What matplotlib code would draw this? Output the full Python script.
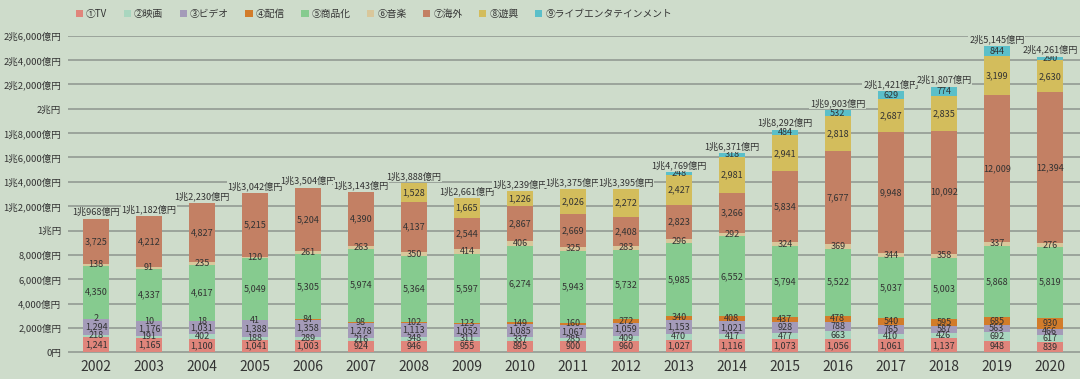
import numpy as np
import matplotlib
matplotlib.use('Agg')
import matplotlib.pyplot as plt

plt.rcParams['font.family'] = ['Noto Sans CJK JP', 'DejaVu Sans']

# 年度
years = ['2002', '2003', '2004', '2005', '2006', '2007', '2008', '2009', '2010', '2011',
         '2012', '2013', '2014', '2015', '2016', '2017', '2018', '2019', '2020']

# 各分野の市場規模 (億円)
tv = [1241, 1165, 1100, 1041, 1003, 924, 946, 955, 895, 900, 960, 1027, 1116, 1073, 1056, 1061, 1137, 948, 839]
eiga = [218, 191, 402, 188, 289, 216, 348, 311, 337, 285, 409, 470, 417, 477, 663, 410, 426, 692, 617]
video = [1294, 1176, 1031, 1388, 1358, 1278, 1113, 1052, 1085, 1067, 1059, 1153, 1021, 928, 788, 765, 587, 563, 466]
haishin = [2, 10, 18, 41, 84, 98, 102, 123, 149, 160, 272, 340, 408, 437, 478, 540, 595, 685, 930]
shohinka = [4350, 4337, 4617, 5049, 5305, 5974, 5364, 5597, 6274, 5943, 5732, 5985, 6552, 5794, 5522, 5037, 5003, 5868, 5819]
ongaku = [138, 91, 235, 120, 261, 263, 350, 414, 406, 325, 283, 296, 292, 324, 369, 344, 358, 337, 276]
kaigai = [3725, 4212, 4827, 5215, 5204, 4390, 4137, 2544, 2867, 2669, 2408, 2823, 3266, 5834, 7677, 9948, 10092, 12009, 12394]
yukyo = [0, 0, 0, 0, 0, 0, 1528, 1665, 1226, 2026, 2272, 2427, 2981, 2941, 2818, 2687, 2835, 3199, 2630]
live = [0, 0, 0, 0, 0, 0, 0, 0, 0, 0, 0, 248, 318, 484, 532, 629, 774, 844, 290]

series_names = ['①TV', '②映画', '③ビデオ', '④配信', '⑤商品化', '⑥音楽', '⑦海外', '⑧遊興',
                '⑨ライブエンタテインメント']
series = [tv, eiga, video, haishin, shohinka, ongaku, kaigai, yukyo, live]
colors = ['#e0857b', '#a9d6bf', '#a49bb9', '#d27c2a', '#86cb8f', '#d9c79b', '#c38064', '#d3bd5c', '#5bbfc9']

bg = '#cedccb'
text_color = '#333333'


def yen_label(v):
    if v == 0:
        return '0円'
    cho = v // 10000
    oku = v % 10000
    if cho == 0:
        return f'{oku:,}億円'
    if oku == 0:
        return f'{cho}兆円'
    return f'{cho}兆{oku:,}億円'


fig = plt.figure(figsize=(10.8, 3.79), dpi=100, facecolor=bg)
ax = fig.add_axes([0.063, 0.0641, 0.937, 0.8417], facecolor=bg)

x = np.arange(len(years))
bottom = np.zeros(len(years))
for name, vals, c in zip(series_names, series, colors):
    vals = np.array(vals)
    ax.bar(x, vals, width=0.49, bottom=bottom, color=c, label=name, zorder=2)
    # 各セグメントの数値
    for i, v in enumerate(vals):
        if v > 0:
            ax.text(x[i], bottom[i] + v / 2, f'{v:,}', ha='center', va='center',
                    fontsize=6.5, color=text_color, zorder=4)
    bottom += vals

# 合計ラベル
for i, total in enumerate(bottom):
    ax.annotate(yen_label(int(total)), (x[i], total), xytext=(0, 1.5), textcoords='offset points',
                ha='center', va='bottom', fontsize=6.6, color=text_color, zorder=5,
                bbox=dict(facecolor=bg, edgecolor='none', pad=0.5))

yticks = np.arange(0, 26001, 2000)
ax.set_yticks(yticks)
ax.set_yticklabels([yen_label(int(v)) for v in yticks], fontsize=6.8, color=text_color)
ax.set_ylim(-200, 26000)
ax.set_xlim(-0.53, 18.57)
ax.set_xticks(x)
ax.set_xticklabels(years, fontsize=10, color=text_color)
ax.tick_params(axis='both', length=0)
ax.tick_params(axis='y', pad=5)
ax.tick_params(axis='x', pad=4)
ax.grid(axis='y', color='#8e958e', linewidth=1.1, zorder=0)
ax.set_axisbelow(True)
for s in ax.spines.values():
    s.set_visible(False)

fig.legend(loc='upper left', bbox_to_anchor=(0.062, 1.0), ncol=9, frameon=False, fontsize=7,
           handlelength=0.75, handleheight=0.75, handletextpad=0.3, columnspacing=1.7,
           labelcolor=text_color)

plt.savefig('out.png', dpi=100, facecolor=bg)
